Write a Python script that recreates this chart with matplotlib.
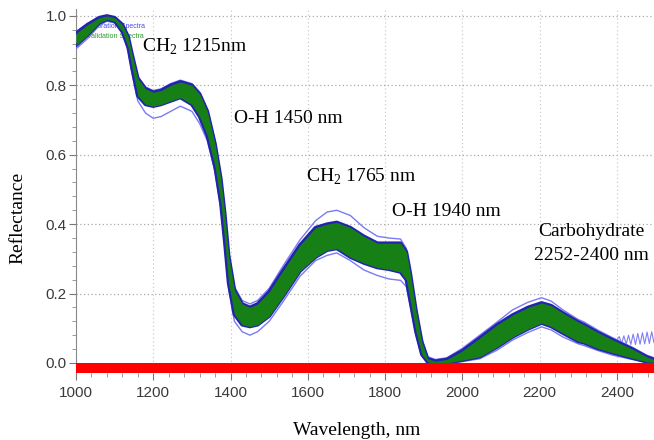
import matplotlib
matplotlib.use("Agg")
import matplotlib.pyplot as plt
from matplotlib.ticker import MultipleLocator, FormatStrFormatter

# ---------------- data ----------------
wavelength = [1000, 1030, 1060, 1080, 1100, 1120, 1135, 1145, 1160, 1180, 1200, 1220,
              1245, 1270, 1300, 1320, 1340, 1360, 1375, 1385, 1395, 1410, 1430, 1450,
              1470, 1500, 1535, 1580, 1620, 1650, 1675, 1710, 1745, 1780, 1810, 1840,
              1855, 1865, 1880, 1895, 1910, 1930, 1960, 2000, 2045, 2090, 2130, 2170,
              2205, 2230, 2260, 2300, 2315, 2350, 2390, 2440, 2478, 2496]

green_upper = [0.950, 0.975, 0.995, 1.000, 0.995, 0.975, 0.940, 0.890, 0.820, 0.790, 0.780, 0.785,
               0.800, 0.810, 0.800, 0.775, 0.725, 0.630, 0.530, 0.430, 0.310, 0.210, 0.170, 0.160,
               0.170, 0.205, 0.265, 0.340, 0.390, 0.400, 0.405, 0.390, 0.365, 0.345, 0.345, 0.345,
               0.320, 0.260, 0.150, 0.060, 0.012, 0.005, 0.010, 0.035, 0.072, 0.110, 0.138, 0.160,
               0.173, 0.165, 0.144, 0.118, 0.110, 0.088, 0.066, 0.040, 0.017, 0.010]

green_lower = [0.915, 0.945, 0.980, 0.990, 0.985, 0.955, 0.910, 0.850, 0.770, 0.745, 0.740, 0.745,
               0.755, 0.765, 0.745, 0.710, 0.655, 0.565, 0.460, 0.350, 0.230, 0.140, 0.110, 0.105,
               0.110, 0.135, 0.190, 0.265, 0.305, 0.325, 0.330, 0.305, 0.288, 0.275, 0.270, 0.262,
               0.240, 0.180, 0.090, 0.025, 0.003, 0.000, 0.000, 0.008, 0.018, 0.046, 0.075, 0.098,
               0.115, 0.105, 0.086, 0.062, 0.058, 0.042, 0.029, 0.014, 0.003, 0.002]

blue_upper = [0.955, 0.978, 0.997, 1.000, 0.997, 0.978, 0.945, 0.895, 0.825, 0.795, 0.785, 0.790,
              0.805, 0.815, 0.805, 0.780, 0.730, 0.640, 0.540, 0.440, 0.320, 0.220, 0.180, 0.170,
              0.180, 0.215, 0.278, 0.355, 0.410, 0.435, 0.440, 0.425, 0.390, 0.365, 0.360, 0.357,
              0.330, 0.270, 0.160, 0.070, 0.018, 0.010, 0.015, 0.042, 0.080, 0.118, 0.153, 0.175,
              0.188, 0.178, 0.153, 0.125, 0.118, 0.095, 0.072, 0.045, 0.022, 0.015]

blue_lower = [0.905, 0.935, 0.972, 0.985, 0.980, 0.950, 0.900, 0.835, 0.755, 0.720, 0.705, 0.710,
              0.725, 0.740, 0.725, 0.690, 0.640, 0.550, 0.445, 0.335, 0.215, 0.120, 0.090, 0.080,
              0.090, 0.120, 0.175, 0.250, 0.295, 0.310, 0.317, 0.295, 0.268, 0.252, 0.242, 0.238,
              0.220, 0.165, 0.080, 0.020, 0.002, 0.000, 0.000, 0.004, 0.012, 0.037, 0.066, 0.088,
              0.104, 0.095, 0.075, 0.055, 0.050, 0.036, 0.022, 0.010, 0.002, 0.000]

# noisy (ringing) calibration spectrum at the long-wavelength end
ring_wavelength = [2390, 2400, 2406, 2412, 2418, 2424, 2430, 2436, 2442, 2448, 2454,
                   2460, 2466, 2472, 2478, 2484, 2490, 2496]
ring_reflectance = [0.070, 0.066, 0.076, 0.056, 0.078, 0.054, 0.080, 0.053, 0.083, 0.053, 0.085,
                    0.054, 0.087, 0.055, 0.089, 0.056, 0.090, 0.058]

annotations = [
    ("CH$_\\mathregular{2}$ 1215nm", 1171, 0.896, "left"),
    ("O-H 1450 nm", 1410, 0.692, "left"),
    ("CH$_\\mathregular{2}$ 1765 nm", 1596, 0.522, "left"),
    ("O-H 1940 nm", 1819, 0.424, "left"),
    ("Carbohydrate", 2335, 0.366, "center"),
    ("2252-2400 nm", 2335, 0.297, "center"),
]

legend_labels = ["Calibration Spectra", "Validation Spectra"]

# ---------------- figure ----------------
W, H = 654, 440
fig = plt.figure(figsize=(W / 100, H / 100), dpi=100)
ax = fig.add_axes([76 / W, 67 / H, (W - 76) / W, (373 - 9) / H])

ax.set_xlim(1000, 2496)
ax.set_ylim(-0.029, 1.02)

# red zero band
ax.axhspan(-0.029, 0.0, color="#ff0000", zorder=6, lw=0)

# spectra
line_kw = dict(solid_joinstyle="round", solid_capstyle="round")
ax.plot(wavelength, blue_upper, color="#7a7af5", lw=1.0, zorder=3, **line_kw)
ax.plot(wavelength, blue_lower, color="#7a7af5", lw=1.0, zorder=3, **line_kw)
ax.plot(ring_wavelength, ring_reflectance, color="#8080f5", lw=0.8, zorder=3, **line_kw)
ax.plot(wavelength, green_upper, color="#2323b0", lw=2.6, zorder=4, **line_kw)
ax.plot(wavelength, green_lower, color="#2323b0", lw=2.6, zorder=4, **line_kw)
ax.fill_between(wavelength, green_lower, green_upper, color="#168016", lw=0, zorder=5)

# tiny legend text
ax.text(1101, 0.971, legend_labels[0], color="#4a4ae8", fontsize=5, ha="center",
        va="center", family="Liberation Sans", zorder=2)
ax.text(1101, 0.940, legend_labels[1], color="#2a9a2a", fontsize=5, ha="center",
        va="center", family="Liberation Sans", zorder=2)

# annotations
for txt, xw, yr, ha in annotations:
    ax.text(xw, yr, txt, fontsize=14, family="Liberation Serif", ha=ha, va="baseline",
            color="black", zorder=7)

# grid / ticks
ax.xaxis.set_major_locator(MultipleLocator(200))
ax.xaxis.set_minor_locator(MultipleLocator(40))
ax.yaxis.set_major_locator(MultipleLocator(0.2))
ax.yaxis.set_minor_locator(MultipleLocator(0.04))
ax.yaxis.set_major_formatter(FormatStrFormatter("%.1f"))
ax.xaxis.grid(True, which="major", linestyle=(0, (1, 2.5)), color="#c4c4c4", lw=0.8, zorder=0)
ax.yaxis.grid(True, which="major", linestyle=(0, (1, 2)), color="#a8a8a8", lw=0.9, zorder=0)
ax.set_axisbelow(True)

for s in ("top", "right", "bottom"):
    ax.spines[s].set_visible(False)
ax.spines["left"].set_color("#8a8a8a")

ax.tick_params(axis="both", which="major", direction="out", length=5, width=0.8,
               color="#777777", labelcolor="#3a3a3a", labelsize=11)
ax.tick_params(axis="both", which="minor", direction="out", length=3, width=0.6,
               color="#888888")
ax.tick_params(axis="x", which="major", pad=4)
ax.tick_params(axis="y", which="major", pad=1.5)
for lab in ax.get_xticklabels() + ax.get_yticklabels():
    lab.set_family("Liberation Sans")

fig.text(357 / W, 1 - 430 / H, "Wavelength, nm", ha="center", va="center",
         fontsize=14, family="Liberation Serif")
fig.text(18 / W, 1 - 218 / H, "Reflectance", ha="center", va="center", rotation=90,
         fontsize=14, family="Liberation Serif")

fig.savefig("out.png", dpi=100)
